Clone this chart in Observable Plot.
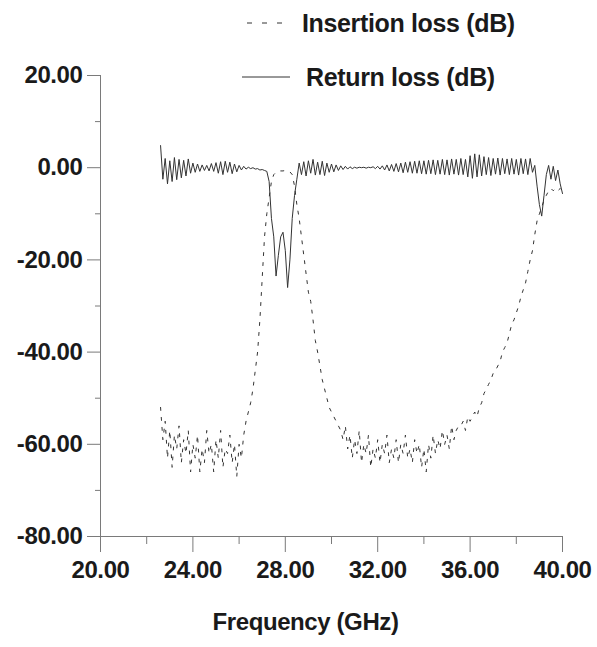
<!DOCTYPE html>
<html>
<head>
<meta charset="utf-8">
<script src="https://cdn.jsdelivr.net/npm/d3@7"></script>
<script src="https://cdn.jsdelivr.net/npm/@observablehq/plot@0.6"></script>
<style>
  html, body { margin: 0; padding: 0; background: #fff; }
  #wrap { position: relative; width: 597px; height: 647px; font-family: "Liberation Sans", Arial, sans-serif; }
  .leg { position: absolute; font: bold 25px "Liberation Sans", Arial, sans-serif; letter-spacing: -0.35px; color: #1a1a1a; line-height: 1; white-space: nowrap; }
  .legsw { position: absolute; }
</style>
</head>
<body>
<div id="wrap"></div>
<script>
// ---- data ----
const xMajorTicks = [20, 24, 28, 32, 36, 40];
const xMinorTicks = [22, 26, 30, 34, 38];
const yMajorTicks = [-80, -60, -40, -20, 0, 20];
const yMinorTicks = [-70, -50, -30, -10, 10];
const xLabel = "Frequency (GHz)";
const seriesNames = ["Insertion loss (dB)", "Return loss (dB)"];

// frequency grid, GHz: 22.6 ... 40.0 in 0.1 steps
const freq = d3.range(226, 401).map(d => d / 10);

// Insertion loss (dB), dashed
const insertionLoss = [
  -52, -59, -55, -63, -57, -65, -58, -61, -56, -64,
  -59, -62, -57, -66, -60, -63, -58, -66, -61, -64,
  -57, -62, -60, -66, -59, -63, -57, -65, -61, -62,
  -58, -64, -60, -67, -60, -63, -58, -55, -53, -51,
  -48, -44, -40, -33, -24, -15, -10, -6.5, -3, -1.5,
  -1.0, -0.8, -0.7, -0.7, -0.6, -0.7, -0.9, -1.5, -4.0, -8.0,
  -11, -15, -19, -23, -27, -29, -33, -37.5, -40, -43,
  -46, -48, -50, -52, -53, -54, -55, -56, -57, -59,
  -56, -61, -58, -63, -59, -62, -57, -64, -60, -62,
  -58, -65, -61, -63, -59, -64, -60, -62, -58, -64,
  -61, -63, -59, -64, -60, -62, -58, -63, -61, -64,
  -59, -62, -60, -65, -61, -66, -60, -63, -58, -62,
  -59, -61, -57, -60, -58, -61, -56, -59, -57, -56,
  -56, -55, -57, -54, -55, -54, -53, -54, -52, -51,
  -49, -48, -47, -46, -44.6, -44, -43, -42, -40, -39,
  -38, -36, -34, -33, -31.5, -30, -28, -26.5, -25, -22.5,
  -20, -18, -14.5, -11.5, -10, -8.6, -7, -6, -5, -4.5,
  -5, -4.5, -5, -4.5, -5
];

// Return loss (dB), solid
const returnLoss = [
  4.8, -2.5, 2.0, -3.5, 1.5, -3.0, 2.2, -2.6, 1.8, -2.2,
  1.6, -1.8, 1.9, -1.2, 1.0, -1.0, 0.8, -0.8, 0.6, -0.6,
  0.5, -0.7, 0.9, -0.8, 1.1, -1.2, 1.3, -1.5, 1.4, -1.0,
  1.2, -1.3, 0.8, -0.9, 0.5, -0.5, 0.3, -0.3, 0.1, -0.2,
  0.0, -0.3, -0.2, -0.5, -0.4, -0.6, -0.8, -3.0, -11.0, -15.0,
  -23.5, -19.0, -15.0, -14.0, -18.0, -26.0, -20.0, -11.0, -6.0, -2.5,
  1.0, -1.5, 1.3, -1.8, 1.5, -1.2, 1.8, -1.6, 1.2, -1.5,
  1.4, -1.7, 1.0, -1.0, 0.8, -0.9, 0.6, -0.6, 0.4, -0.4,
  0.3, -0.3, 0.2, -0.2, 0.1, -0.1, 0.1, 0.0, 0.1, -0.1,
  0.1, 0.0, 0.2, -0.2, 0.3, -0.3, 0.4, -0.5, 0.6, -0.7,
  0.7, -0.8, 0.9, -0.9, 1.0, -1.1, 1.2, -1.0, 1.3, -1.2,
  1.4, -1.2, 1.5, -1.3, 1.5, -1.4, 1.6, -1.3, 1.7, -1.5,
  1.6, -1.4, 1.8, -1.5, 1.7, -1.6, 1.9, -1.4, 1.8, -1.6,
  2.0, -1.5, 1.8, -2.0, 2.6, -2.3, 3.0, -2.0, 2.8, -1.8,
  2.4, -1.5, 2.2, -1.7, 2.0, -1.4, 2.1, -1.6, 2.0, -1.3,
  1.9, -1.5, 2.0, -1.4, 1.8, -1.6, 2.0, -1.3, 1.9, -1.5,
  2.0, -1.0, 0.5, -4.0, -8.0, -10.5, -6.0, -1.5, 0.5, -2.5,
  0.3, -2.8, -0.5, -3.5, -5.6
];

const rows = freq.map((f, i) => ({f, il: insertionLoss[i], rl: returnLoss[i]}));

const axisGray = "#7a7a7a";
const ink = "#1a1a1a";

const chart = Plot.plot({
  width: 597,
  height: 647,
  marginLeft: 100,
  marginRight: 35,
  marginTop: 75,
  marginBottom: 111,
  style: {fontFamily: "'Liberation Sans', Arial, sans-serif", fontSize: "24px", fontWeight: "bold", color: ink, background: "#fff", letterSpacing: "-0.4px"},
  x: {domain: [20, 40]},
  y: {domain: [-80, 20]},
  marks: [
    Plot.ruleX([20], {y1: -80, y2: 20, stroke: axisGray, strokeWidth: 1}),
    Plot.ruleY([-80], {x1: 20, x2: 40, stroke: axisGray, strokeWidth: 1}),
    Plot.axisY({ticks: yMajorTicks, tickSize: 13, tickPadding: 5, tickFormat: d => d.toFixed(2), label: null, stroke: axisGray, fill: ink}),
    Plot.axisY({ticks: yMinorTicks, tickSize: 5, tickFormat: () => "", label: null, stroke: axisGray}),
    Plot.axisX({ticks: xMajorTicks, tickSize: 16, tickPadding: 8, tickFormat: d => d.toFixed(2), label: null, stroke: axisGray, fill: ink}),
    Plot.axisX({ticks: xMinorTicks, tickSize: 8, tickFormat: () => "", label: null, stroke: axisGray}),
    Plot.lineY(rows, {x: "f", y: "il", stroke: "#333", strokeWidth: 1, strokeDasharray: "3,7"}),
    Plot.lineY(rows, {x: "f", y: "rl", stroke: "#333", strokeWidth: 1}),
    Plot.text([xLabel], {frameAnchor: "bottom", dy: 93, dx: -26, fill: ink, fontSize: 24, fontWeight: "bold"})
  ]
});

const wrap = document.getElementById("wrap");
wrap.appendChild(chart);

// legend (HTML overlay)
function addLegend(name, top, dashed) {
  const sw = document.createElementNS("http://www.w3.org/2000/svg", "svg");
  sw.setAttribute("class", "legsw");
  sw.setAttribute("width", 50);
  sw.setAttribute("height", 4);
  sw.style.left = "242px";
  sw.style.top = (top - 2) + "px";
  const ln = document.createElementNS("http://www.w3.org/2000/svg", "line");
  ln.setAttribute("x1", dashed ? 5 : 0);
  ln.setAttribute("x2", dashed ? 45 : 48);
  ln.setAttribute("y1", 2);
  ln.setAttribute("y2", 2);
  ln.setAttribute("stroke", "#333");
  ln.setAttribute("stroke-width", 1);
  if (dashed) ln.setAttribute("stroke-dasharray", "5,10");
  sw.appendChild(ln);
  wrap.appendChild(sw);
  const t = document.createElement("div");
  t.className = "leg";
  t.textContent = name;
  t.style.left = (dashed ? 302 : 306) + "px";
  t.style.top = (top - 12) + "px";
  wrap.appendChild(t);
}
addLegend(seriesNames[0], 23, true);
addLegend(seriesNames[1], 77, false);
</script>
</body>
</html>
